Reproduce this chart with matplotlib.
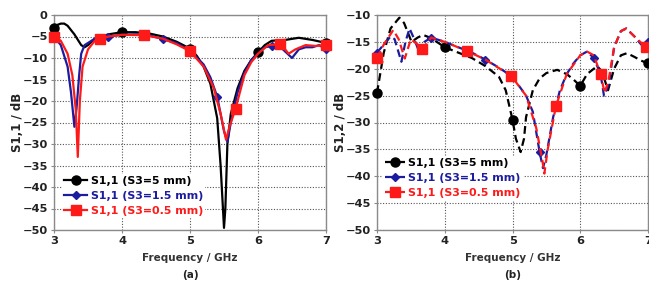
import numpy as np
import matplotlib
matplotlib.use("Agg")
import matplotlib.pyplot as plt

# ---------------- Data: panel (a) S1,1 ----------------
a_f_5 = [3.0, 3.05, 3.1, 3.15, 3.2, 3.3, 3.4, 3.45, 3.5, 3.6, 3.7, 3.8, 4.0, 4.2, 4.4, 4.6, 4.8,
         5.0, 5.1, 5.2, 5.3, 5.4, 5.45, 5.5, 5.52, 5.55, 5.6, 5.7, 5.8, 5.9, 6.0, 6.1, 6.2, 6.4,
         6.6, 6.8, 7.0]
a_s_5 = [-3.0, -2.3, -2.0, -2.0, -2.5, -4.5, -7.0, -7.5, -7.0, -5.5, -5.0, -4.5, -4.0, -4.0,
         -4.3, -5.0, -6.2, -7.8, -9.5, -12.0, -16.0, -24.0, -35.0, -49.5, -45.0, -30.0, -23.0,
         -17.0, -13.0, -10.5, -8.7, -7.0, -6.0, -5.8, -5.3, -5.8, -6.5]
a_f_15 = [3.0, 3.1, 3.2, 3.25, 3.3, 3.33, 3.37, 3.4, 3.45, 3.5, 3.6, 3.8, 4.0, 4.2, 4.4, 4.6,
          4.8, 5.0, 5.2, 5.3, 5.4, 5.5, 5.55, 5.6, 5.7, 5.8, 5.9, 6.0, 6.1, 6.2, 6.3, 6.4, 6.5,
          6.6, 6.7, 6.8, 6.9, 7.0]
a_s_15 = [-5.0, -7.0, -12.0, -18.0, -26.0, -22.0, -14.0, -9.0, -7.0, -6.5, -5.5, -5.0, -4.6,
          -4.5, -4.7, -5.6, -6.5, -8.3, -11.5, -14.5, -19.0, -27.0, -29.5, -25.0, -18.0, -13.5,
          -10.5, -9.0, -7.5, -7.2, -7.0, -8.5, -10.0, -8.0, -7.5, -7.5, -7.0, -8.0]
a_f_05 = [3.0, 3.1, 3.2, 3.27, 3.32, 3.35, 3.38, 3.42, 3.5, 3.6, 3.67, 3.8, 4.0, 4.33, 4.6,
          4.8, 5.0, 5.2, 5.35, 5.45, 5.53, 5.58, 5.67, 5.8, 5.9, 6.0, 6.15, 6.33, 6.4, 6.45,
          6.55, 6.7, 6.85, 7.0]
a_s_05 = [-5.0, -6.0, -9.0, -14.0, -22.0, -33.0, -20.0, -12.0, -8.0, -6.0, -5.6, -5.0, -4.6,
          -4.7, -5.5, -6.8, -8.4, -12.0, -17.0, -23.0, -29.0, -26.0, -21.8, -14.0, -11.0, -9.0,
          -7.0, -6.8, -8.0, -9.0, -8.0, -7.0, -7.2, -7.0]

# ---------------- Data: panel (b) S1,2 ----------------
b_f_5 = [3.0, 3.1, 3.2, 3.33, 3.4, 3.51, 3.6, 3.68, 3.8, 4.0, 4.2, 4.4, 4.6, 4.8, 4.9, 5.0,
         5.05, 5.12, 5.17, 5.2, 5.3, 5.4, 5.5, 5.66, 5.8, 5.9, 6.0, 6.1, 6.25, 6.32, 6.41, 6.5,
         6.6, 6.69, 6.8, 6.9, 7.0]
b_s_5 = [-24.5, -17.0, -12.5, -10.5, -11.5, -15.0, -14.2, -13.7, -14.3, -16.0, -17.0, -18.0,
         -19.5, -21.5, -24.0, -29.5, -33.0, -35.5, -33.0, -29.0, -24.0, -21.8, -20.8, -20.2,
         -21.0, -22.0, -23.2, -21.0, -19.5, -20.5, -24.0, -20.0, -17.5, -17.1, -17.8, -18.5,
         -19.0]
b_f_15 = [3.0, 3.1, 3.2, 3.26, 3.36, 3.42, 3.48, 3.55, 3.63, 3.7, 3.8, 4.0, 4.2, 4.4, 4.6,
          4.8, 5.0, 5.2, 5.3, 5.4, 5.45, 5.5, 5.6, 5.7, 5.8, 5.9, 6.0, 6.1, 6.2, 6.3, 6.35,
          6.42, 6.5, 6.6, 6.68, 6.8, 6.9, 7.0]
b_s_15 = [-17.0, -15.5, -14.0, -14.5, -18.7, -15.0, -12.5, -14.5, -17.1, -15.0, -14.2, -15.0,
          -16.0, -17.0, -18.3, -19.8, -21.5, -25.0, -28.0, -35.5, -38.5, -36.0, -29.0, -24.0,
          -21.0, -19.0, -17.5, -16.8, -18.0, -21.0, -25.0, -23.0, -16.0, -13.0, -12.5, -14.0,
          -15.5, -15.0]
b_f_05 = [3.0, 3.1, 3.24, 3.32, 3.41, 3.5, 3.6, 3.67, 3.8, 4.0, 4.33, 4.6, 4.98, 5.2, 5.35,
          5.44, 5.47, 5.52, 5.64, 5.8, 6.0, 6.1, 6.2, 6.3, 6.36, 6.42, 6.5, 6.6, 6.68, 6.8,
          6.97, 7.0]
b_s_05 = [-18.0, -15.5, -12.8, -14.5, -18.1, -14.5, -15.5, -16.3, -14.2, -15.0, -16.7, -18.3,
          -21.3, -25.0, -31.0, -37.0, -39.5, -35.0, -27.0, -21.0, -17.5, -16.8, -17.5, -21.0,
          -24.5, -22.0, -16.0, -13.0, -12.5, -14.0, -16.0, -16.0]

# marker frequencies
a_m_5 = [3.0, 4.0, 5.0, 6.0, 7.0]
a_m_15 = [3.0, 3.8, 4.6, 5.4, 6.2, 7.0]
a_m_05 = [3.0, 3.67, 4.33, 5.0, 5.67, 6.33, 7.0]
b_m_5 = [3.0, 4.0, 5.0, 6.0, 7.0]
b_m_15 = [3.0, 3.8, 4.6, 5.4, 6.2, 7.0]
b_m_05 = [3.0, 3.67, 4.33, 4.98, 5.64, 6.3, 6.97]

labels = ["S1,1 (S3=5 mm)", "S1,1 (S3=1.5 mm)", "S1,1 (S3=0.5 mm)"]
colors = ["#000000", "#1c1ca0", "#ff1a1a"]
markers = ["o", "D", "s"]
msizes = [6.5, 4.2, 7]


def idx(freqs, marks):
    return [int(np.argmin(np.abs(np.array(freqs) - m))) for m in marks]


fig = plt.figure(figsize=(6.49, 2.82), dpi=100)
H = 282.0
W = 649.0
ax1 = fig.add_axes([54 / W, 1 - 230 / H, 272 / W, 215 / H])
ax2 = fig.add_axes([377 / W, 1 - 230 / H, 271 / W, 215 / H])

series_a = [(a_f_5, a_s_5, a_m_5), (a_f_15, a_s_15, a_m_15), (a_f_05, a_s_05, a_m_05)]
series_b = [(b_f_5, b_s_5, b_m_5), (b_f_15, b_s_15, b_m_15), (b_f_05, b_s_05, b_m_05)]

for k, (f, s, m) in enumerate(series_a):
    ax1.plot(f, s, color=colors[k], lw=1.6, marker=markers[k], ms=msizes[k],
             markevery=idx(f, m), label=labels[k], zorder=3 + k, clip_on=False)
for k, (f, s, m) in enumerate(series_b):
    ax2.plot(f, s, color=colors[k], lw=1.6, ls=(0, (3.5, 2)), marker=markers[k], ms=msizes[k],
             markevery=idx(f, m), label=labels[k], zorder=3 + k, clip_on=False)

for ax, ylo, yhi, ylab, sub in [(ax1, -50, 0, "S1,1 / dB", "(a)"), (ax2, -50, -10, "S1,2 / dB", "(b)")]:
    ax.set_xlim(3, 7)
    ax.set_ylim(ylo, yhi)
    ax.set_xticks([3, 4, 5, 6, 7])
    ax.set_yticks(np.arange(ylo, yhi + 1, 5))
    ax.grid(True, color="#555555", ls=(0, (1, 1.5)), lw=0.8)
    ax.set_axisbelow(True)
    for sp in ax.spines.values():
        sp.set_color("#8a8a8a")
        sp.set_linewidth(1.0)
    ax.tick_params(labelsize=8.2, length=2.5, color="#8a8a8a", pad=2)
    for t in ax.get_xticklabels() + ax.get_yticklabels():
        t.set_fontweight("bold")
        t.set_color("#222222")
    ax.set_xlabel("Frequency / GHz", fontsize=7.5, fontweight="bold", color="#333333", labelpad=5)
    ax.set_ylabel(ylab, fontsize=8.5, fontweight="bold", color="#222222", labelpad=-1.5)
    ax.text(0.5, (230 - 275) / 215.0, sub, transform=ax.transAxes, ha="center", va="center",
            fontsize=7.5, fontweight="bold", color="#222222")

leg1 = ax1.legend(loc="center left", bbox_to_anchor=(0.03, (230 - 196) / 215.0), fontsize=7.9,
                  handlelength=2.1, handletextpad=0.3, labelspacing=0.45, borderpad=0.2,
                  frameon=True, borderaxespad=0)
leg2 = ax2.legend(loc="center left", bbox_to_anchor=(0.02, (230 - 178) / 215.0), fontsize=7.9,
                  handlelength=1.85, handletextpad=0.3, labelspacing=0.45, borderpad=0.2,
                  frameon=True, borderaxespad=0)
for leg in (leg1, leg2):
    leg.get_frame().set_facecolor("white")
    leg.get_frame().set_edgecolor("none")
    leg.get_frame().set_alpha(1)
    for t, c in zip(leg.get_texts(), colors):
        t.set_color(c)
        t.set_fontweight("bold")
    leg.set_zorder(10)

fig.savefig("out.png", dpi=100)
